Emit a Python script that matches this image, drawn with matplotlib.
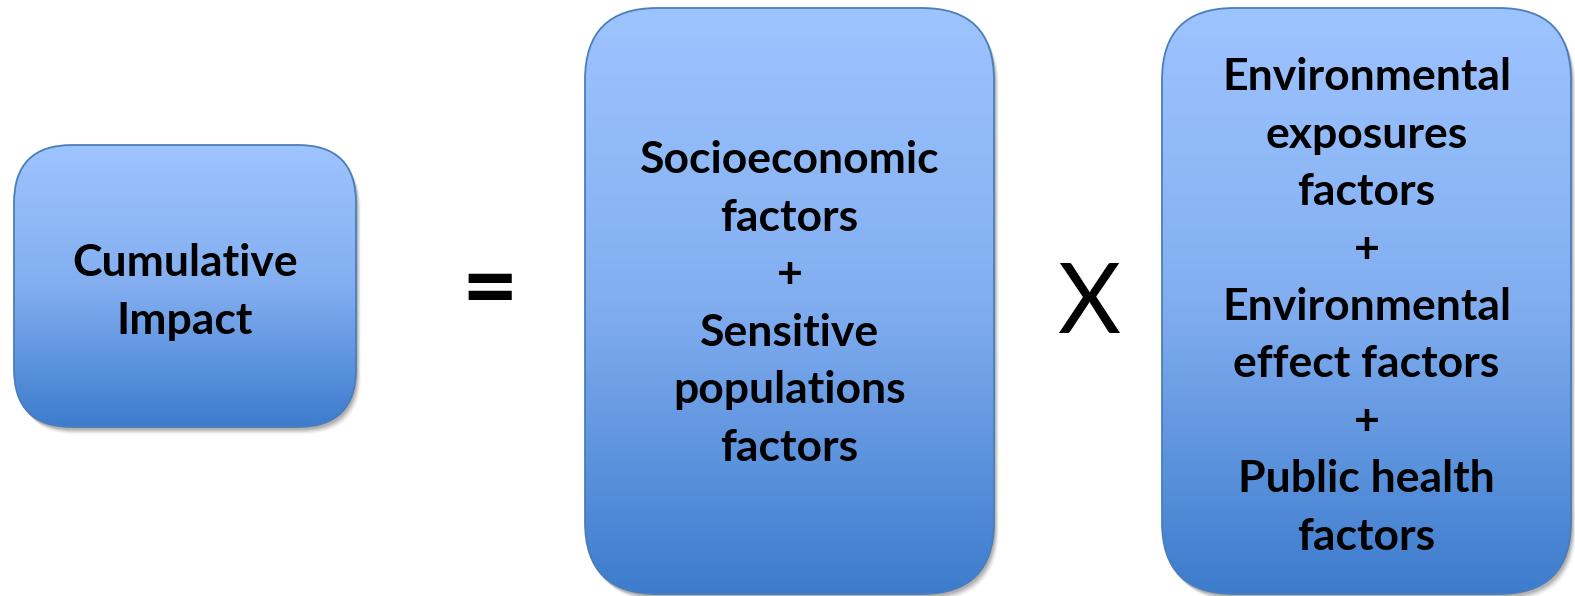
import numpy as np
import matplotlib
matplotlib.use('Agg')
import matplotlib.pyplot as plt
from matplotlib.patches import FancyBboxPatch
from matplotlib.colors import LinearSegmentedColormap

W, H = 1575, 596

# box contents (left to right)
labels = [
    "Cumulative\nImpact",
    "Socioeconomic\nfactors\n+\nSensitive\npopulations\nfactors",
    "Environmental\nexposures\nfactors\n+\nEnvironmental\neffect factors\n+\nPublic health\nfactors",
]
operators = ["=", "X"]
op_weight = ["bold", "normal"]

# box geometry in pixels: x0, y0 (top), x1, y1 (bottom), corner radius
boxes = [(14, 145, 356, 427, 58), (585, 8, 994, 594, 72), (1162, 8, 1571, 594, 72)]
text_y = [292, 304, 307]
op_pos = [(490, 292), (1089, 306)]

top_col, bot_col = '#9EC4FF', '#3D7CCD'
cmap = LinearSegmentedColormap.from_list('box', [top_col, '#82AEF0', bot_col])

fig = plt.figure(figsize=(W / 100, H / 100), dpi=100)
ax = fig.add_axes([0, 0, 1, 1])
ax.set_xlim(0, W); ax.set_ylim(H, 0); ax.axis('off')

grad = np.linspace(0, 1, 256).reshape(-1, 1)
for (x0, y0, x1, y1, r), lab, ty in zip(boxes, labels, text_y):
    # soft shadow
    for k, a in zip(range(1, 8), [0.10, 0.09, 0.08, 0.06, 0.05, 0.035, 0.02]):
        sh = FancyBboxPatch((x0 + 1 + k * 0.6, y0 + 2 + k * 0.8), x1 - x0, y1 - y0,
                            boxstyle=f'round,pad=0,rounding_size={r}',
                            fc='#333333', ec='none', alpha=a, zorder=1)
        ax.add_patch(sh)
    p = FancyBboxPatch((x0, y0), x1 - x0, y1 - y0,
                       boxstyle=f'round,pad=0,rounding_size={r}',
                       fc='none', ec='#4A7EBB', lw=1.3, zorder=3)
    ax.add_patch(p)
    im = ax.imshow(grad, cmap=cmap, extent=(x0, x1, y1, y0), aspect='auto', zorder=2)
    im.set_clip_path(p)
    ax.text((x0 + x1) / 2, ty, lab, ha='center', va='center', fontsize=32,
            fontweight='bold', family='Lato', linespacing=1.53, zorder=4)

for op, (ox, oy), wt in zip(operators, op_pos, op_weight):
    ax.text(ox, oy, op, ha='center', va='center', fontsize=70, family='Lato',
            fontweight=wt, zorder=4)

ax.set_xlim(0, W); ax.set_ylim(H, 0)
fig.savefig('out.png', dpi=100)
